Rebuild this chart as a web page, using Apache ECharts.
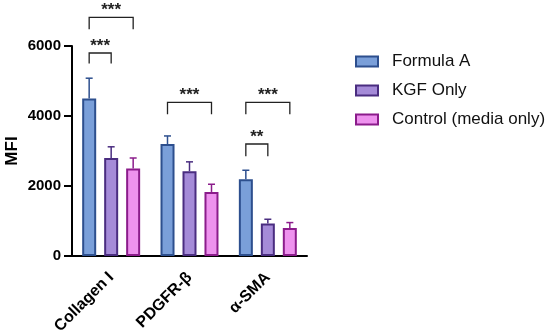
<!DOCTYPE html>
<html>
<head>
<meta charset="utf-8">
<script src="https://cdn.jsdelivr.net/npm/echarts@6/dist/echarts.min.js"></script>
<style>html,body{margin:0;padding:0;background:#fff}#c{width:550px;height:334px}</style>
</head>
<body>
<div id="c"></div>
<script>
var categories = ['Collagen I', 'PDGFR-β', 'α-SMA'];
var seriesNames = ['Formula A', 'KGF Only', 'Control (media only)'];
var formulaA = [4500, 3200, 2190];
var kgfOnly = [2800, 2420, 930];
var control = [2500, 1830, 800];
var formulaAErr = [580, 230, 260];
var kgfOnlyErr = [320, 270, 120];
var controlErr = [300, 220, 155];
var yTicks = [0, 2000, 4000, 6000];
// significance brackets: category, from-bar, to-bar, bracket level, leg end, label
var sigCat = [0, 0, 1, 2, 2];
var sigFrom = [0, 0, 0, 0, 0];
var sigTo = [1, 2, 2, 2, 1];
var sigY = [5800, 6820, 4390, 4390, 3200];
var sigLeg = [5500, 6480, 4050, 4050, 2850];
var sigLabel = ['***', '***', '***', '***', '**'];

var FONT = 'Liberation Sans, Arial, Helvetica, sans-serif';
var fills = ['#7a9fd9', '#a58bd8', '#ee92ee'];
var borders = ['#2d4f8e', '#4a2d80', '#8b1c8b'];
var BAR_W = 14, BAR_STEP = 22;

var values = [formulaA, kgfOnly, control];
var errs = [formulaAErr, kgfOnlyErr, controlErr];

var errData = [];
for (var s = 0; s < 3; s++) for (var i = 0; i < categories.length; i++) errData.push([i, s, values[s][i], errs[s][i]]);
var sigData = [];
for (var k = 0; k < sigCat.length; k++) sigData.push([sigCat[k], sigFrom[k], sigTo[k], sigY[k], sigLeg[k], sigLabel[k]]);

var series = [];
for (var s2 = 0; s2 < 3; s2++) {
  series.push({
    name: seriesNames[s2], type: 'bar', data: values[s2],
    barWidth: BAR_W, barGap: '57%',
    itemStyle: { color: fills[s2], borderColor: borders[s2], borderWidth: 2 },
    emphasis: { disabled: true }
  });
}
series.push({
  type: 'custom', clip: false, silent: true, z: 3,
  encode: { x: 0, y: 2 },
  data: errData,
  renderItem: function (params, api) {
    var cat = api.value(0), s = api.value(1), v = api.value(2), e = api.value(3);
    var off = (s - 1) * BAR_STEP;
    var p0 = api.coord([cat, v]);
    var p1 = api.coord([cat, v + e]);
    var x = p0[0] + off;
    var st = { stroke: borders[s], lineWidth: 1.5 };
    return { type: 'group', children: [
      { type: 'line', shape: { x1: x, y1: p0[1], x2: x, y2: p1[1] }, style: st },
      { type: 'line', shape: { x1: x - 3.5, y1: p1[1], x2: x + 3.5, y2: p1[1] }, style: st }
    ]};
  }
});
series.push({
  type: 'custom', clip: false, silent: true, z: 3,
  encode: { x: 0, y: 3 },
  data: sigData,
  renderItem: function (params, api) {
    var cat = api.value(0), a = api.value(1), b = api.value(2), y = api.value(3), leg = api.value(4);
    var lab = sigData[params.dataIndex][5];
    var pc = api.coord([cat, y]);
    var pl = api.coord([cat, leg]);
    var xa = pc[0] + (a - 1) * BAR_STEP, xb = pc[0] + (b - 1) * BAR_STEP;
    var st = { stroke: '#222', lineWidth: 1.3, fill: null };
    return { type: 'group', children: [
      { type: 'polyline', shape: { points: [[xa, pl[1]], [xa, pc[1]], [xb, pc[1]], [xb, pl[1]]] }, style: st },
      { type: 'text', style: { x: (xa + xb) / 2, y: pc[1] - 7, text: lab, fill: '#222', font: 'bold 17px ' + FONT, align: 'center', verticalAlign: 'middle' } }
    ]};
  }
});

var chart = echarts.init(document.getElementById('c'), null, { renderer: 'canvas' });
chart.setOption({
  animation: false,
  backgroundColor: '#fff',
  textStyle: { fontFamily: FONT },
  grid: { left: 72, right: 243, top: 46, bottom: 78, containLabel: false, outerBoundsMode: 'none' },
  legend: {
    data: seriesNames, orient: 'vertical', left: 355, top: 53, padding: 0,
    itemWidth: 22, itemHeight: 10, itemGap: 12, icon: 'rect', selectedMode: false,
    textStyle: { fontSize: 17, color: '#111', fontFamily: FONT, padding: [0, 0, 0, 9] }
  },
  xAxis: {
    type: 'category', data: categories,
    axisLine: { lineStyle: { color: '#000', width: 2 } },
    axisTick: { alignWithLabel: true, length: 7, lineStyle: { color: '#000', width: 2 } },
    axisLabel: { rotate: 45, fontSize: 16, fontWeight: 'bold', color: '#000', margin: 19, fontFamily: FONT }
  },
  yAxis: {
    type: 'value', min: yTicks[0], max: yTicks[yTicks.length - 1], interval: yTicks[1] - yTicks[0],
    name: 'MFI', nameLocation: 'middle', nameGap: 51, nameRotate: 90,
    nameTextStyle: { fontSize: 17, fontWeight: 'bold', color: '#000', fontFamily: FONT },
    splitLine: { show: false },
    axisLine: { show: true, lineStyle: { color: '#000', width: 2 } },
    axisTick: { show: true, length: 8, lineStyle: { color: '#000', width: 2 } },
    axisLabel: { fontSize: 15, fontWeight: 'bold', color: '#000', margin: 11, fontFamily: FONT,
      formatter: function (v) { return String(v); } }
  },
  series: series
});
</script>
</body>
</html>
